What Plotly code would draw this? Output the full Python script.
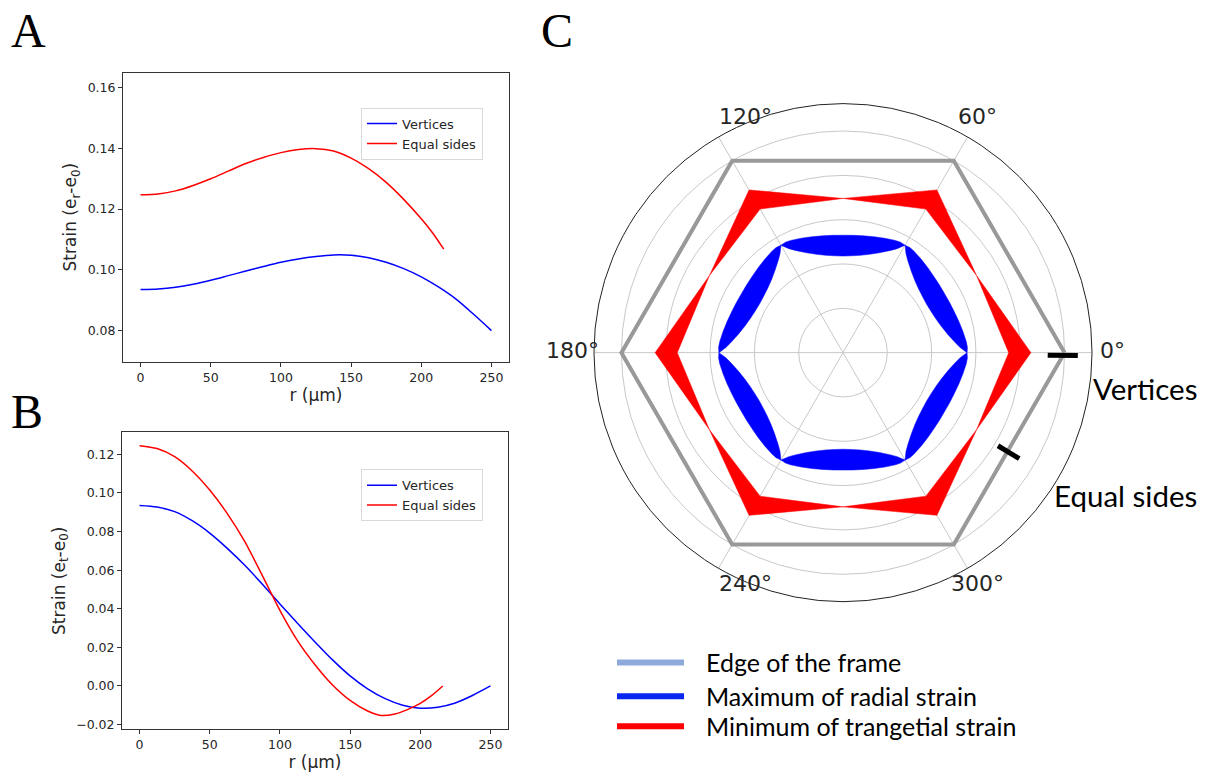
import plotly.graph_objects as go

# ---------------- data: panel A (radial strain) ----------------
rA_vert = [0, 12.5, 25, 37.5, 50, 62.5, 75, 87.5, 100, 112.5, 125, 137.5, 150, 162.5, 175, 187.5, 200, 212.5, 225, 237.5, 250]
eA_vert = [0.0935, 0.0937, 0.0943, 0.0953, 0.0966, 0.0981, 0.0996, 0.1011, 0.1025, 0.1036, 0.1044, 0.1049,
           0.1048, 0.1040, 0.1025, 0.1004, 0.0977, 0.0943, 0.0903, 0.0853, 0.0800]
rA_side = [0, 12.5, 25, 37.5, 50, 62.5, 75, 87.5, 100, 112.5, 125, 137.5, 150, 162.5, 175, 187.5, 200, 208, 216]
eA_side = [0.1247, 0.1250, 0.1260, 0.1278, 0.1300, 0.1325, 0.1350, 0.1370, 0.1386, 0.1396, 0.1399, 0.1391,
           0.1368, 0.1333, 0.1288, 0.1232, 0.1168, 0.1122, 0.1068]

# ---------------- data: panel B (tangential strain) ----------------
rB_vert = [0, 12.5, 25, 37.5, 50, 62.5, 75, 87.5, 100, 112.5, 125, 137.5, 150, 162.5, 175, 187.5, 200, 212.5, 225, 237.5, 250]
eB_vert = [0.0935, 0.0927, 0.0903, 0.0856, 0.0792, 0.0713, 0.0625, 0.0527, 0.0425, 0.0325, 0.0228, 0.0135,
           0.0052, -0.0015, -0.0066, -0.0100, -0.0115, -0.0110, -0.0088, -0.0048, 0.0]
rB_side = [0, 12.5, 25, 37.5, 50, 62.5, 75, 87.5, 100, 112.5, 125, 137.5, 150, 162.5, 172, 182, 190, 200, 208, 216]
eB_side = [0.1245, 0.1230, 0.1188, 0.1114, 0.1015, 0.0893, 0.0748, 0.0572, 0.0392, 0.0235, 0.0110, 0.0005,
           -0.0075, -0.0130, -0.0153, -0.0145, -0.0125, -0.0090, -0.0050, 0.0]

# ---------------- data: panel C (polar) ----------------
frame_theta = [0, 60, 120, 180, 240, 300, 360]
frame_r = [250, 250, 250, 250, 250, 250, 250]
# blue band (max radial strain): offsets from a vertex direction (deg) with inner/outer radius (um)
blue_off = [0, 2.5, 5, 10, 15, 20, 25, 30]
blue_inner = [140, 132.3, 127.3, 119.9, 114.8, 111.5, 109.7, 109.0]
blue_outer = [140, 140.5, 139.7, 137.4, 135.4, 133.8, 132.9, 132.5]
# red band (min tangential strain): at vertex directions and pinch at mid-sides
red_vertex_inner = 187
red_vertex_outer = 212
red_mid = 174
vertex_angles = [0, 60, 120, 180, 240, 300]
mark_vert_theta = [-0.7, -0.7]
mark_vert_r = [231, 265]
mark_side_theta = [-31, -31]
mark_side_r = [204, 232]

ang_ticks = [0, 60, 120, 180, 240, 300]
ang_labels = ["0°", "60°", "120°", "180°", "240°", "300°"]
ang_label_px = [(1112, 352), (977, 117), (745, 117), (572, 352), (745, 586), (977, 586)]
rad_ticks = [50, 100, 150, 200, 250]

W, H = 1217, 781
BLUE = "#0000ff"
RED = "#ff0000"
AXFONT = dict(family="DejaVu Sans", size=12.5, color="#262626")
TITLEFONT = dict(family="DejaVu Sans", size=17, color="#262626")

fig = go.Figure()

# Panel A
fig.add_trace(go.Scatter(x=rA_vert, y=eA_vert, mode="lines", name="Vertices",
                         line=dict(color=BLUE, width=1.5, shape="spline", smoothing=0.8),
                         xaxis="x", yaxis="y", legend="legend"))
fig.add_trace(go.Scatter(x=rA_side, y=eA_side, mode="lines", name="Equal sides",
                         line=dict(color=RED, width=1.5, shape="spline", smoothing=0.8),
                         xaxis="x", yaxis="y", legend="legend"))
# Panel B
fig.add_trace(go.Scatter(x=rB_vert, y=eB_vert, mode="lines", name="Vertices",
                         line=dict(color=BLUE, width=1.5, shape="spline", smoothing=0.8),
                         xaxis="x2", yaxis="y2", legend="legend2"))
fig.add_trace(go.Scatter(x=rB_side, y=eB_side, mode="lines", name="Equal sides",
                         line=dict(color=RED, width=1.5, shape="spline", smoothing=0.8),
                         xaxis="x2", yaxis="y2", legend="legend2"))

# Panel C: red kites around each vertex direction
for a in vertex_angles:
    th = [a - 30, a, a + 30, a, a - 30]
    rr = [red_mid, red_vertex_outer, red_mid, red_vertex_inner, red_mid]
    fig.add_trace(go.Scatterpolar(r=rr, theta=th, mode="lines", fill="toself",
                                  fillcolor=RED, line=dict(color=RED, width=0.5),
                                  showlegend=False, hoverinfo="skip"))

# Panel C: blue lenses along each side
for a in vertex_angles:
    b = a + 60
    th_out = [a + o for o in blue_off] + [b - o for o in reversed(blue_off[:-1])]
    r_out = blue_outer + list(reversed(blue_outer[:-1]))
    th_in = [b - o for o in blue_off] + [a + o for o in reversed(blue_off[:-1])]
    r_in = blue_inner + list(reversed(blue_inner[:-1]))
    fig.add_trace(go.Scatterpolar(r=r_out + r_in, theta=th_out + th_in, mode="lines",
                                  fill="toself", fillcolor=BLUE,
                                  line=dict(color=BLUE, width=0.5),
                                  showlegend=False, hoverinfo="skip"))

# Frame hexagon
fig.add_trace(go.Scatterpolar(r=frame_r, theta=frame_theta, mode="lines",
                              line=dict(color="#999999", width=4),
                              showlegend=False, hoverinfo="skip"))
# black markers
fig.add_trace(go.Scatterpolar(r=mark_vert_r, theta=mark_vert_theta, mode="lines",
                              line=dict(color="black", width=5), showlegend=False))
fig.add_trace(go.Scatterpolar(r=mark_side_r, theta=mark_side_theta, mode="lines",
                              line=dict(color="black", width=5), showlegend=False))

def px_x(x0, x1):
    return [x0 / W, x1 / W]

def px_y(top, bottom):
    return [1 - bottom / H, 1 - top / H]

axis_common = dict(showline=True, linecolor="#333333", linewidth=1, mirror=True,
                   ticks="outside", ticklen=4, tickcolor="#333333", tickwidth=1,
                   showgrid=False, zeroline=False, tickfont=AXFONT)

cx, cy, R = 843, 354, 250

fig.update_layout(
    width=W, height=H, margin=dict(l=0, r=0, t=0, b=0),
    paper_bgcolor="white", plot_bgcolor="white",
    xaxis=dict(domain=px_x(123, 509), range=[-12.5, 262.5], tickvals=[0, 50, 100, 150, 200, 250],
               title=dict(text="r (µm)", font=TITLEFONT, standoff=3),
               anchor="y", **axis_common),
    yaxis=dict(domain=px_y(73, 363), range=[0.0698, 0.1649], tickvals=[0.08, 0.10, 0.12, 0.14, 0.16],
               tickformat=".2f",
               title=dict(text="Strain (e<sub>r</sub>-e<sub>0</sub>)", font=TITLEFONT, standoff=6),
               anchor="x", **axis_common),
    xaxis2=dict(domain=px_x(122, 508), range=[-12.5, 262.5], tickvals=[0, 50, 100, 150, 200, 250],
                title=dict(text="r (µm)", font=TITLEFONT, standoff=3),
                anchor="y2", **axis_common),
    yaxis2=dict(domain=px_y(434, 732), range=[-0.0224, 0.1314],
                tickvals=[-0.02, 0.0, 0.02, 0.04, 0.06, 0.08, 0.10, 0.12], tickformat=".2f",
                title=dict(text="Strain (e<sub>t</sub>-e<sub>0</sub>)", font=TITLEFONT, standoff=6),
                anchor="x2", **axis_common),
    legend=dict(x=361 / W, y=1 - 108 / H, xanchor="left", yanchor="top",
                bgcolor="white", bordercolor="#d9d9d9", borderwidth=1,
                font=dict(family="DejaVu Sans", size=13, color="#262626")),
    legend2=dict(x=361 / W, y=1 - 471 / H, xanchor="left", yanchor="top",
                 bgcolor="white", bordercolor="#d9d9d9", borderwidth=1,
                 font=dict(family="DejaVu Sans", size=13, color="#262626")),
    polar=dict(
        domain=dict(x=px_x(cx - R, cx + R), y=px_y(cy - R, cy + R)),
        bgcolor="white",
        angularaxis=dict(rotation=0, direction="counterclockwise",
                         tickmode="array", tickvals=ang_ticks, ticktext=ang_labels,
                         showticklabels=False,
                         ticks="", showline=True, linecolor="#222222", linewidth=1,
                         gridcolor="#c8c8c8", gridwidth=1),
        radialaxis=dict(range=[0, 281], tickvals=rad_ticks, showticklabels=False,
                        ticks="", showline=False, gridcolor="#c8c8c8", gridwidth=1),
    ),
)

# angular tick labels of C
for txt, (x, y) in zip(ang_labels, ang_label_px):
    fig.add_annotation(text=txt, x=x / W, y=1 - y / H, xref="paper", yref="paper",
                       showarrow=False, xanchor="center", yanchor="middle",
                       font=dict(family="DejaVu Sans", size=22, color="#262626"))

# panel letters
for txt, x, y in [("A", 29, 31), ("B", 27, 413), ("C", 557, 31)]:
    fig.add_annotation(text=txt, x=x / W, y=1 - y / H, xref="paper", yref="paper",
                       showarrow=False, xanchor="center", yanchor="middle",
                       font=dict(family="Liberation Serif", size=48, color="black"))

# labels in C
fig.add_annotation(text="Vertices", x=1199 / W, y=1 - 390 / H, xref="paper", yref="paper",
                   showarrow=False, xanchor="right", yanchor="middle",
                   font=dict(family="Lato", size=29.5, color="black"))
fig.add_annotation(text="Equal sides", x=1199 / W, y=1 - 497 / H, xref="paper", yref="paper",
                   showarrow=False, xanchor="right", yanchor="middle",
                   font=dict(family="Lato", size=29.5, color="black"))

# bottom legend for C
leg_items = [("Edge of the frame", "#8eaadb", 665),
             ("Maximum of radial strain", "#0a28f0", 699),
             ("Minimum of trangetial strain", "#ff0000", 729)]
for txt, col, yy in leg_items:
    fig.add_shape(type="line", xref="paper", yref="paper",
                  x0=617 / W, x1=684 / W, y0=1 - yy / H, y1=1 - yy / H,
                  line=dict(color=col, width=6))
    fig.add_annotation(text=txt, x=704 / W, y=1 - yy / H, xref="paper", yref="paper",
                       showarrow=False, xanchor="left", yanchor="middle",
                       font=dict(family="Lato", size=25, color="black"))

fig.write_html("out.html", config={"displayModeBar": False},
               post_script="document.body.style.margin='0px';")
